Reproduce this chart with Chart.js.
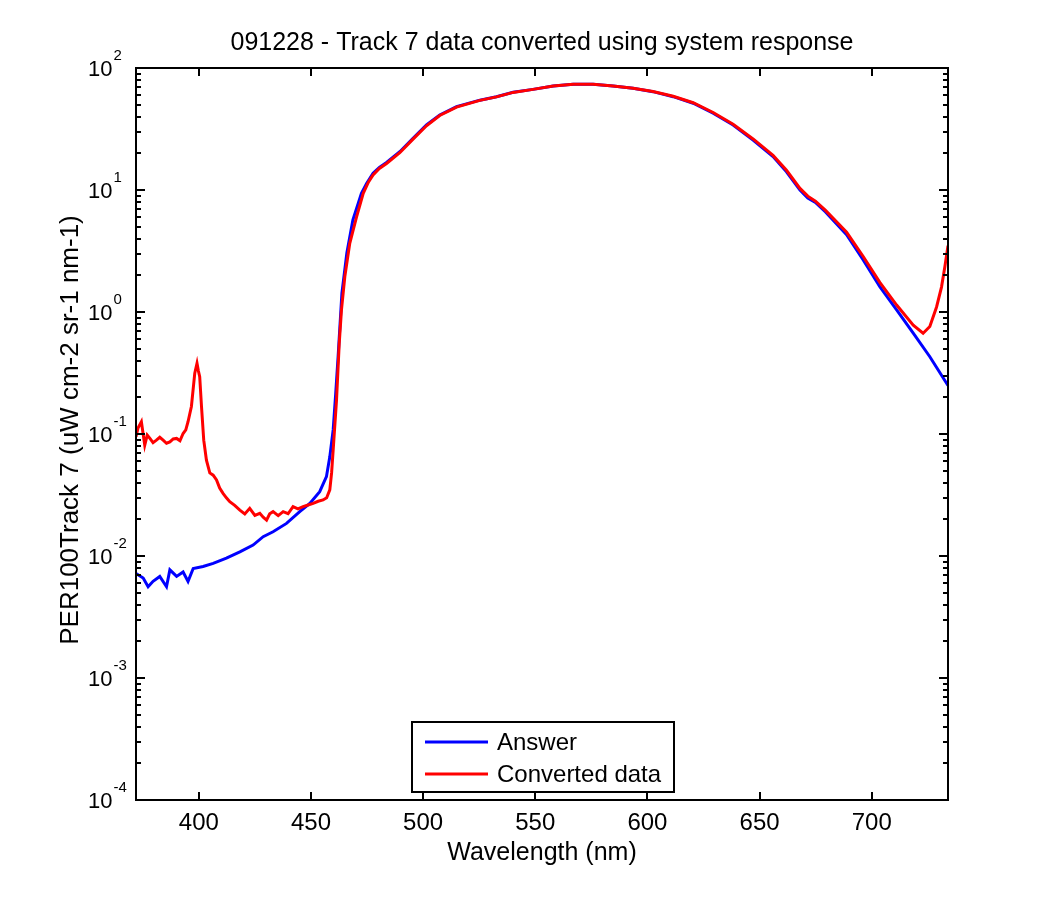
<!DOCTYPE html>
<html>
<head>
<meta charset="utf-8">
<title>091228 - Track 7</title>
<script src="https://cdn.jsdelivr.net/npm/chart.js@4.4.1/dist/chart.umd.min.js"></script>
<style>
  body { margin: 0; background: #fff; }
  canvas { display: block; }
</style>
</head>
<body>
<canvas id="spectrum" width="1050" height="900"></canvas>
<script>
// wavelengths (nm) and values (uW cm-2 sr-1 nm-1)
const answerNm = [372.0, 375.2, 377.4, 379.6, 382.6, 385.6, 387.1, 390.1, 393.0, 395.2,
  397.5, 401.9, 406.4, 412.3, 418.3, 424.2, 428.7, 433.1, 439.1, 445.0,
  449.5, 453.9, 456.9, 458.4, 459.9, 461.0, 462.1, 463.8, 466.0, 468.7,
  472.5, 474.8, 477.7, 480.5, 483.7, 489.6, 495.5, 501.5, 507.4, 514.9, 525.3,
  532.7, 540.1, 549.0, 558.0, 566.9, 575.8, 584.7, 593.6, 602.5, 611.5,
  620.4, 629.3, 638.2, 647.1, 656.0, 662.0, 668.0, 671.5, 674.9, 679.4,
  688.8, 696.2, 703.6, 711.1, 718.5, 725.9, 734.0];
const answerVal = [0.0072, 0.0066, 0.0056, 0.0062, 0.0068, 0.0056, 0.0077, 0.0068, 0.0074, 0.0062,
  0.0079, 0.0082, 0.0087, 0.0096, 0.0108, 0.0123, 0.0144, 0.0158, 0.0185, 0.0231,
  0.027, 0.0337, 0.0447, 0.065, 0.108, 0.21, 0.43, 1.43, 3.05, 5.7,
  9.4, 11.3, 13.7, 15.3, 16.8, 20.6, 26.5, 34.1, 41.2, 48.2, 54.5,
  58.2, 63.3, 66.8, 71.1, 73.5, 73.5, 71.1, 68.2, 64.0, 58.2,
  51.4, 42.6, 34.1, 25.7, 18.8, 14.1, 10.0, 8.6, 7.9, 6.6,
  4.3, 2.67, 1.61, 1.04, 0.67, 0.43, 0.25];

const convNm = [372.0, 372.9, 374.4, 375.9, 377.0, 378.2, 379.6, 381.1, 382.6, 384.1,
  385.6, 387.1, 388.6, 390.1, 391.6, 393.0, 394.2, 395.2, 396.7, 398.2,
  399.2, 399.8, 400.4, 401.2, 402.2, 403.4, 404.9, 406.4, 407.9, 409.3,
  410.8, 412.3, 413.8, 416.0, 418.3, 420.5, 422.7, 425.0, 427.2, 428.7,
  430.2, 431.6, 433.1, 435.4, 437.6, 439.8, 442.0, 444.2, 446.5, 448.7,
  451.0, 453.2, 455.4, 457.0, 458.4, 459.2, 460.2, 461.4, 462.6, 463.6,
  465.1, 467.3, 470.3, 473.3, 475.6, 477.7, 480.5, 483.7, 489.6, 495.5, 501.5, 507.4,
  514.9, 525.3, 532.7, 540.1, 549.0, 558.0, 566.9, 575.8, 584.7, 593.6,
  602.5, 611.5, 620.4, 629.3, 638.2, 647.1, 656.0, 662.0, 668.0, 671.5,
  674.9, 679.4, 688.8, 696.2, 703.6, 711.1, 718.5, 722.9, 725.9, 728.9,
  731.1, 732.6, 734.0];
const convVal = [0.095, 0.112, 0.126, 0.081, 0.098, 0.092, 0.085, 0.089, 0.094, 0.089,
  0.084, 0.086, 0.091, 0.092, 0.088, 0.101, 0.108, 0.126, 0.168, 0.315,
  0.38, 0.33, 0.295, 0.168, 0.089, 0.061, 0.048, 0.046, 0.042, 0.036,
  0.0326, 0.030, 0.0279, 0.026, 0.0238, 0.0221, 0.0246, 0.0215, 0.0224, 0.0208,
  0.0197, 0.0222, 0.0231, 0.0214, 0.0231, 0.0222, 0.0254, 0.0243, 0.0254, 0.0262,
  0.027, 0.0281, 0.0288, 0.030, 0.0348, 0.048, 0.089, 0.19, 0.55, 1.04,
  1.95, 3.66, 6.0, 9.4, 11.6, 13.3, 15.0, 16.5, 20.2, 26.1, 33.6, 40.8,
  47.8, 54.3, 58.0, 63.1, 66.8, 71.1, 73.5, 73.5, 71.1, 68.2,
  64.2, 58.6, 51.9, 43.2, 34.6, 26.2, 19.2, 14.5, 10.3, 8.9,
  8.1, 6.8, 4.5, 2.85, 1.75, 1.14, 0.78, 0.67, 0.76, 1.1,
  1.6, 2.35, 3.5];

const xTicks = [400, 450, 500, 550, 600, 650, 700];
const yExponents = [-4, -3, -2, -1, 0, 1, 2];

const FONT = '"Liberation Sans", Arial, Helvetica, sans-serif';

// MATLAB-style box, inward ticks, labels and legend
const matlabAxes = {
  id: 'matlabAxes',
  afterDatasetsDraw(chart) {
    const { ctx, chartArea: a, scales: { x, y } } = chart;
    ctx.save();
    ctx.strokeStyle = '#000';
    ctx.fillStyle = '#000';
    ctx.lineWidth = 2;

    const seg = (x1, y1, x2, y2) => {
      ctx.beginPath(); ctx.moveTo(x1, y1); ctx.lineTo(x2, y2); ctx.stroke();
    };

    // x ticks, bottom and top
    xTicks.forEach(v => {
      const px = Math.round(x.getPixelForValue(v));
      seg(px, a.bottom, px, a.bottom - 8);
      seg(px, a.top, px, a.top + 8);
    });

    // y ticks: decades and minor 2..9, on both sides
    yExponents.forEach(e => {
      const py = Math.round(y.getPixelForValue(Math.pow(10, e)));
      seg(a.left, py, a.left + 9, py);
      seg(a.right, py, a.right - 9, py);
      if (e < 2) {
        for (let k = 2; k <= 9; k++) {
          const pm = Math.round(y.getPixelForValue(k * Math.pow(10, e)));
          seg(a.left, pm, a.left + 5, pm);
          seg(a.right, pm, a.right - 5, pm);
        }
      }
    });

    ctx.strokeRect(a.left, a.top, a.right - a.left, a.bottom - a.top);

    // x tick labels
    ctx.font = '24px ' + FONT;
    ctx.textAlign = 'center';
    ctx.textBaseline = 'alphabetic';
    xTicks.forEach(v => ctx.fillText(String(v), x.getPixelForValue(v), 830));

    // y tick labels 10^n
    ctx.textAlign = 'left';
    yExponents.forEach(e => {
      const py = y.getPixelForValue(Math.pow(10, e));
      ctx.font = '22px ' + FONT;
      ctx.fillText('10', 88, py + 8);
      const w = ctx.measureText('10').width;
      ctx.font = '15px ' + FONT;
      ctx.fillText(String(e), 88 + w + 1, py - 8);
    });

    // title and axis labels
    const cx = (a.left + a.right) / 2;
    ctx.font = '25px ' + FONT;
    ctx.textAlign = 'center';
    ctx.fillText('091228 - Track 7 data converted using system response', cx, 50);
    ctx.fillText('Wavelength (nm)', cx, 860);
    ctx.save();
    ctx.font = '26px ' + FONT;
    ctx.translate(78, (a.top + a.bottom) / 2 - 4);
    ctx.rotate(-Math.PI / 2);
    ctx.fillText('PER100Track 7 (uW cm-2 sr-1 nm-1)', 0, 0);
    ctx.restore();

    // legend
    ctx.fillStyle = '#fff';
    ctx.fillRect(412, 722, 262, 70);
    ctx.strokeRect(412, 722, 262, 70);
    const rows = [chart.data.datasets[0], chart.data.datasets[1]];
    ctx.font = '24px ' + FONT;
    ctx.textAlign = 'left';
    rows.forEach((ds, i) => {
      const base = 750 + i * 32;
      ctx.strokeStyle = ds.borderColor;
      ctx.lineWidth = 3;
      seg(425, base - 8, 488, base - 8);
      ctx.fillStyle = '#000';
      ctx.fillText(ds.label, 497, base);
    });
    ctx.restore();
  }
};

const toPoints = (xs, ys) => xs.map((v, i) => ({ x: v, y: ys[i] }));

new Chart(document.getElementById('spectrum'), {
  type: 'line',
  data: {
    datasets: [
      {
        label: 'Answer',
        data: toPoints(answerNm, answerVal),
        borderColor: '#0000ff',
        borderWidth: 3,
        pointRadius: 0,
        order: 1
      },
      {
        label: 'Converted data',
        data: toPoints(convNm, convVal),
        borderColor: '#ff0000',
        borderWidth: 3,
        pointRadius: 0,
        order: 0
      }
    ]
  },
  options: {
    responsive: false,
    animation: false,
    devicePixelRatio: 1,
    layout: { padding: { left: 136, top: 68, right: 102, bottom: 100 } },
    plugins: {
      legend: { display: false },
      title: { display: false },
      tooltip: { enabled: false }
    },
    scales: {
      x: { type: 'linear', min: 372, max: 734, display: false },
      y: { type: 'logarithmic', min: 1e-4, max: 100, display: false }
    }
  },
  plugins: [matlabAxes]
});
</script>
</body>
</html>
